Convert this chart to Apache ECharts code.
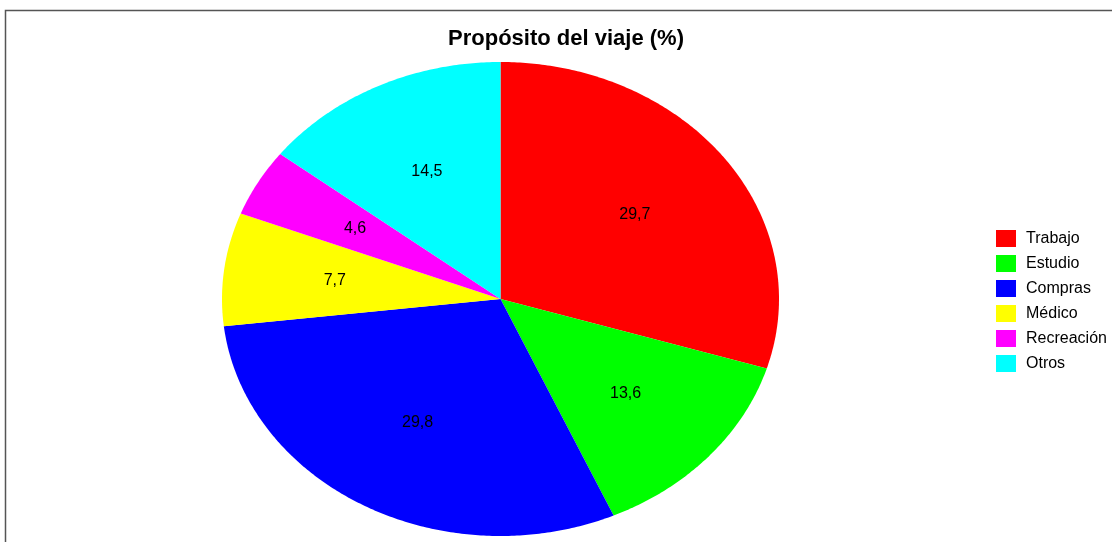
<!DOCTYPE html>
<html>
<head>
<meta charset="utf-8">
<script src="https://cdn.jsdelivr.net/npm/echarts@6/dist/echarts.min.js"></script>
<style>
html, body { margin: 0; padding: 0; background: #fff; }
#chart { width: 1112px; height: 542px; }
</style>
</head>
<body>
<div id="chart"></div>
<script>
var categories = ["Trabajo", "Estudio", "Compras", "Médico", "Recreación", "Otros"];
var values = [29.7, 13.6, 29.8, 7.7, 4.6, 14.5];
var labels = ["29,7", "13,6", "29,8", "7,7", "4,6", "14,5"];
var colors = ["#ff0000", "#00ff00", "#0000ff", "#ffff00", "#ff00ff", "#00ffff"];

// stretched pie (R draws it as an ellipse)
var pieCx = 500.5, pieCy = 299, pieRx = 278.5, pieRy = 237;
var total = 0;
for (var i = 0; i < values.length; i++) total += values[i];

function renderSlice(params, api) {
    var v = api.value(0), start = api.value(1);
    var a0 = start / total * Math.PI * 2;
    var a1 = (start + v) / total * Math.PI * 2;
    var pts = [[pieCx, pieCy]];
    var n = Math.max(4, Math.ceil((a1 - a0) / 0.01));
    for (var k = 0; k <= n; k++) {
        var a = a0 + (a1 - a0) * k / n;
        pts.push([pieCx + pieRx * Math.sin(a), pieCy - pieRy * Math.cos(a)]);
    }
    var am = (a0 + a1) / 2;
    return {
        type: 'group',
        children: [{
            type: 'polygon',
            shape: { points: pts },
            style: { fill: api.visual('color') }
        }, {
            type: 'text',
            x: pieCx + 0.6 * pieRx * Math.sin(am),
            y: pieCy - 0.6 * pieRy * Math.cos(am),
            style: {
                text: labels[params.seriesIndex],
                fill: '#000', fontSize: 16, fontFamily: 'Liberation Sans, Arial',
                align: 'center', verticalAlign: 'middle'
            }
        }]
    };
}

var series = [];
var cum = 0;
for (var j = 0; j < categories.length; j++) {
    series.push({
        type: 'custom',
        name: categories[j],
        coordinateSystem: 'none',
        silent: true,
        renderItem: renderSlice,
        itemStyle: { color: colors[j] },
        data: [[values[j], cum]]
    });
    cum += values[j];
}

var chart = echarts.init(document.getElementById('chart'));
chart.setOption({
    animation: false,
    backgroundColor: '#fff',
    title: {
        text: 'Propósito del viaje (%)',
        left: 561, top: 23, textAlign: 'center',
        textStyle: { fontSize: 22, fontWeight: 'bold', color: '#000', fontFamily: 'Liberation Sans, Arial' }
    },
    legend: {
        orient: 'vertical',
        left: 996, top: 230,
        padding: 0,
        icon: 'rect',
        itemWidth: 20, itemHeight: 17, itemGap: 8,
        textStyle: { fontSize: 16, color: '#000', fontFamily: 'Liberation Sans, Arial', padding: [0, 0, 0, 5] },
        data: categories
    },
    graphic: [{
        type: 'polyline',
        shape: { points: [[5.5, 542], [5.5, 10.5], [1112, 10.5]] },
        style: { stroke: '#555', lineWidth: 1.5, fill: null }
    }],
    series: series
});
</script>
</body>
</html>
